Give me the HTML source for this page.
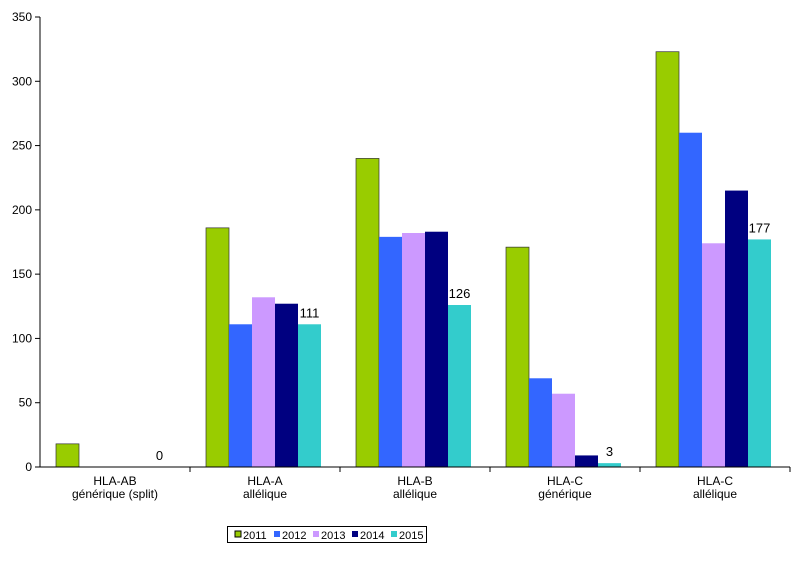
<!DOCTYPE html>
<html><head><meta charset="utf-8"><style>
body{margin:0;background:#fff}
svg text{font-family:"Liberation Sans",sans-serif;font-size:12px;fill:#000}
</style></head><body>
<svg id="c" width="800" height="577"></svg>
<script>
const categories=[["HLA-AB","générique (split)"],["HLA-A","allélique"],["HLA-B","allélique"],["HLA-C","générique"],["HLA-C","allélique"]];
const years=["2011","2012","2013","2014","2015"];
const s2011=[18,186,240,171,323];
const s2012=[0,111,179,69,260];
const s2013=[0,132,182,57,174];
const s2014=[0,127,183,9,215];
const s2015=[0,111,126,3,177];
const yTicks=[0,50,100,150,200,250,300,350];
const colors=["#99cc00","#3366ff","#cc99ff","#000080","#33cccc"];
const series=[s2011,s2012,s2013,s2014,s2015];
const NS="http://www.w3.org/2000/svg",svg=document.getElementById('c');
const X0=40,X1=790,Y0=467,Y1=17,gw=(X1-X0)/categories.length,bw=23,off=16;
const y=v=>Y0-(v/350)*(Y0-Y1);
const x=(g,i)=>X0+g*gw+off+i*bw;
function el(t,a,txt){const e=document.createElementNS(NS,t);for(const k in a)e.setAttribute(k,a[k]);if(txt!=null)e.textContent=txt;svg.appendChild(e);return e;}
yTicks.forEach(t=>{el('line',{x1:X0-5,x2:X0,y1:y(t),y2:y(t),stroke:'#000'});
const tl=el('text',{x:X0-8,y:y(t)+4,'text-anchor':'end'},t);

});
series.forEach((s,i)=>s.forEach((v,g)=>{if(v<=0)return;
const r=el('rect',{x:x(g,i),y:y(v),width:bw,height:Y0-y(v),fill:colors[i],stroke:i==0?'#333':'none','stroke-width':0.7});

}));
s2015.forEach((v,g)=>{const t=el('text',{x:x(g,4)+bw/2,y:y(v)-7,'text-anchor':'middle'},v);
t.setAttribute('style','font-size:13px');

});
el('line',{x1:X0,x2:X0,y1:Y1,y2:Y0,stroke:'#000'});
el('line',{x1:X0,x2:X1,y1:Y0,y2:Y0,stroke:'#000'});
categories.forEach((c,g)=>{el('line',{x1:X0+(g+1)*gw,x2:X0+(g+1)*gw,y1:Y0,y2:Y0+5,stroke:'#000'});
const cx=X0+g*gw+gw/2;
const a=el('text',{x:cx,y:485,'text-anchor':'middle'},c[0]);
const b=el('text',{x:cx,y:498,'text-anchor':'middle'},c[1]);});
const lb=el('rect',{x:227.5,y:526.5,width:199,height:16,fill:'#fff',stroke:'#000'});

years.forEach((yr,i)=>{const lx=235+i*39;
el('rect',{x:lx,y:531,width:6,height:6,fill:colors[i],stroke:i==0?'#000':'none'});
const t=el('text',{x:lx+8,y:539},yr);t.setAttribute('style','font-size:11px');
});
</script>
</body></html>
